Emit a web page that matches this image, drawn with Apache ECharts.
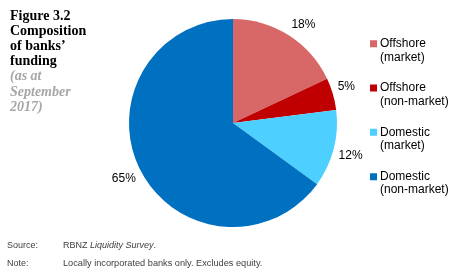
<!DOCTYPE html>
<html><head><meta charset="utf-8">
<script src="https://cdn.jsdelivr.net/npm/echarts@6/dist/echarts.min.js"></script>
<style>html,body{margin:0;padding:0;background:#fff}#c{width:458px;height:273px}</style>
</head><body><div id="c"></div>
<script>
const categories = ['Offshore\n(market)', 'Offshore\n(non-market)', 'Domestic\n(market)', 'Domestic\n(non-market)'];
const values = [18, 5, 12, 65];
const colors = ['#D86767', '#C00000', '#4DCFFF', '#0070C0'];
const titleLines = ['Figure 3.2', 'Composition', 'of banks\u2019', 'funding'];
const subtitleLines = ['(as at', 'September', '2017)'];

const chart = echarts.init(document.getElementById('c'), null, {renderer: 'canvas'});
const iconPath = 'path://M0,0L7,0L0,0Z M0,3.25H7V10.25H0Z M0,27L7,27L0,27Z';
const labelGap = 5;
chart.setOption({
  animation: false,
  color: colors,
  title: [
    {text: titleLines.join('\n'), left: 10, top: 9, padding: 0,
     textStyle: {fontFamily: 'Liberation Serif', fontWeight: 'bold', fontSize: 14, lineHeight: 15, color: '#000'}},
    {text: subtitleLines.join('\n'), left: 10, top: 69, padding: 0,
     textStyle: {fontFamily: 'Liberation Serif', fontStyle: 'italic', fontWeight: 'bold', fontSize: 14, lineHeight: 15.5, color: '#A6A6A6'}}
  ],
  legend: {
    orient: 'vertical', left: 370, top: 37, padding: 0,
    itemWidth: 7, itemHeight: 27, itemGap: 17.3,
    icon: iconPath,
    textStyle: {fontFamily: 'Liberation Sans', fontSize: 12, lineHeight: 13.5, color: '#000', padding: [0,0,0,-2]},
    data: categories
  },
  series: [{
    type: 'pie',
    center: [233, 123],
    radius: 104,
    startAngle: 90,
    clockwise: true,
    avoidLabelOverlap: false,
    itemStyle: {borderWidth: 0},
    label: {show: true, position: 'outside', formatter: '{c}%',
      fontFamily: 'Liberation Sans', fontSize: 12, color: '#000'},
    labelLine: {show: false, length: 8, length2: 0},
    labelLayout: function (params) {
      const lay = chart.getModel().getSeriesByIndex(0).getData().getItemLayout(params.dataIndex);
      const mid = (lay.startAngle + lay.endAngle) / 2;
      const R = lay.r + labelGap;
      const dx = Math.cos(mid), dy = Math.sin(mid);
      return {
        x: lay.cx + R * dx,
        y: lay.cy + R * dy,
        align: dx >= 0 ? 'left' : 'right',
        verticalAlign: dy >= 0 ? 'top' : 'bottom'
      };
    },
    emphasis: {disabled: true},
    data: categories.map((n, i) => ({name: n, value: values[i]}))
  }],
  graphic: [
    {type: 'text', left: 7, top: 241, style: {text: 'Source:', font: '9px "Liberation Sans"', fill: '#404040'}},
    {type: 'text', left: 63, top: 241, style: {text: '{a|RBNZ }{b|Liquidity Survey}{a|.}', font: '9px "Liberation Sans"', fill: '#404040',
      rich: {a: {fontFamily: 'Liberation Sans', fontSize: 9, color: '#404040'}, b: {fontFamily: 'Liberation Sans', fontSize: 9, fontStyle: 'italic', color: '#404040'}}}},
    {type: 'text', left: 7, top: 259, style: {text: 'Note:', font: '9px "Liberation Sans"', fill: '#404040'}},
    {type: 'text', left: 63, top: 259, style: {text: 'Locally incorporated banks only. Excludes equity.', font: '9.2px "Liberation Sans"', fill: '#404040'}}
  ]
});
</script></body></html>
